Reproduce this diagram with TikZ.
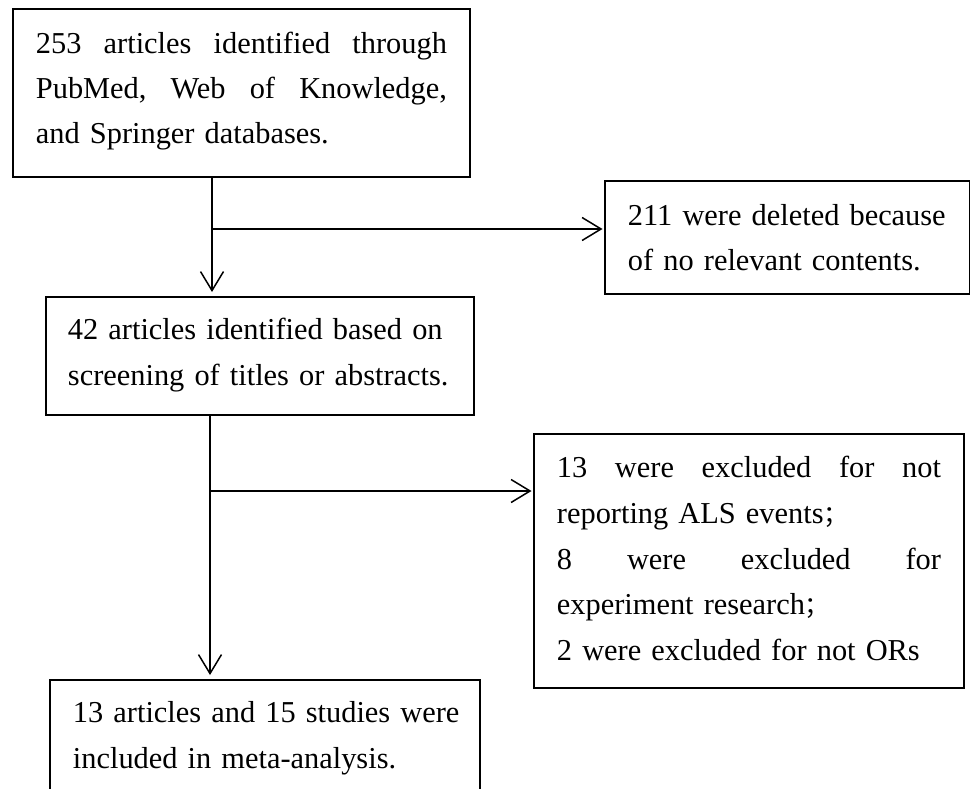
\documentclass[tikz,border=0pt]{standalone}
\usepackage{fontspec}
\setmainfont{Liberation Serif}
\newfontfamily\cjkfont{Noto Sans CJK SC}
\usetikzlibrary{arrows.meta}
\tikzset{
  x=1bp, y=-1bp,
  flowbox/.style={draw=black, line width=1.9bp, rectangle, anchor=north west,
    inner ysep=0pt, inner xsep=23bp, align=left, text=black},
  flowarrow/.style={line width=1.5bp, -{Straight Barb[length=19bp,width=23bp]}},
}
\newcommand{\firstline}[1]{\leavevmode\rule{0pt}{#1bp}}
\newcommand{\lastline}[1]{\rule[-#1bp]{0pt}{#1bp}}
\newcommand{\fullline}[1]{\leavevmode\hbox to \hsize{#1}}
\newcommand{\cjksemi}{{\cjkfont\fontsize{25}{25}\selectfont ；}}
\begin{document}
\begin{tikzpicture}
\useasboundingbox (0,0) rectangle (970,789);
\fill[white] (0,0) rectangle (970,789);

\node[flowbox, text width=411bp, font=\fontsize{30.5}{45}\selectfont] (b1) at (12,8)
  {\noindent\firstline{45}\fullline{253\hfill articles\hfill identified\hfill through}\\
   \fullline{PubMed,\hfill Web\hfill of\hfill Knowledge,}\\
   \mbox{and Springer databases.}\lastline{33}};

\node[flowbox, text width=319bp, font=\fontsize{30.5}{45}\selectfont] (b2) at (604,180)
  {\noindent\firstline{45}\mbox{211 were deleted because}\\
   \mbox{of no relevant contents.}\lastline{23}};

\node[flowbox, inner xsep=22bp, text width=384bp, font=\fontsize{30.5}{46}\selectfont] (b3) at (45,296)
  {\noindent\firstline{43}\mbox{42 articles identified based on}\\
   \mbox{screening of titles or abstracts.}\lastline{29}};

\node[flowbox, text width=384bp, font=\fontsize{30.5}{45.75}\selectfont] (b4) at (533,433)
  {\noindent\firstline{44}\fullline{13\hfill were\hfill excluded\hfill for\hfill not}\\
   \mbox{reporting ALS events\cjksemi}\\
   \fullline{8\hfill were\hfill excluded\hfill for}\\
   \mbox{experiment research\cjksemi}\\
   \mbox{2 were excluded for not ORs}\lastline{28}};

\node[flowbox, text width=384bp, font=\fontsize{30.5}{46}\selectfont] (b5) at (49,679)
  {\noindent\firstline{43}\mbox{13 articles and 15 studies were}\\
   \mbox{included in meta-analysis.}\lastline{40}};

\coordinate (j1) at (212,229);
\coordinate (j2) at (210,491);

\draw[flowarrow, shorten >=4bp] (b1.south -| j1) -- (b3.north -| j1);
\draw[flowarrow, shorten >=1.5bp] (j1) -- (j1 -| b2.west);
\draw[flowarrow, shorten >=4bp] (b3.south -| j2) -- (b5.north -| j2);
\draw[flowarrow, shorten >=1.5bp] (j2) -- (j2 -| b4.west);
\end{tikzpicture}
\end{document}
